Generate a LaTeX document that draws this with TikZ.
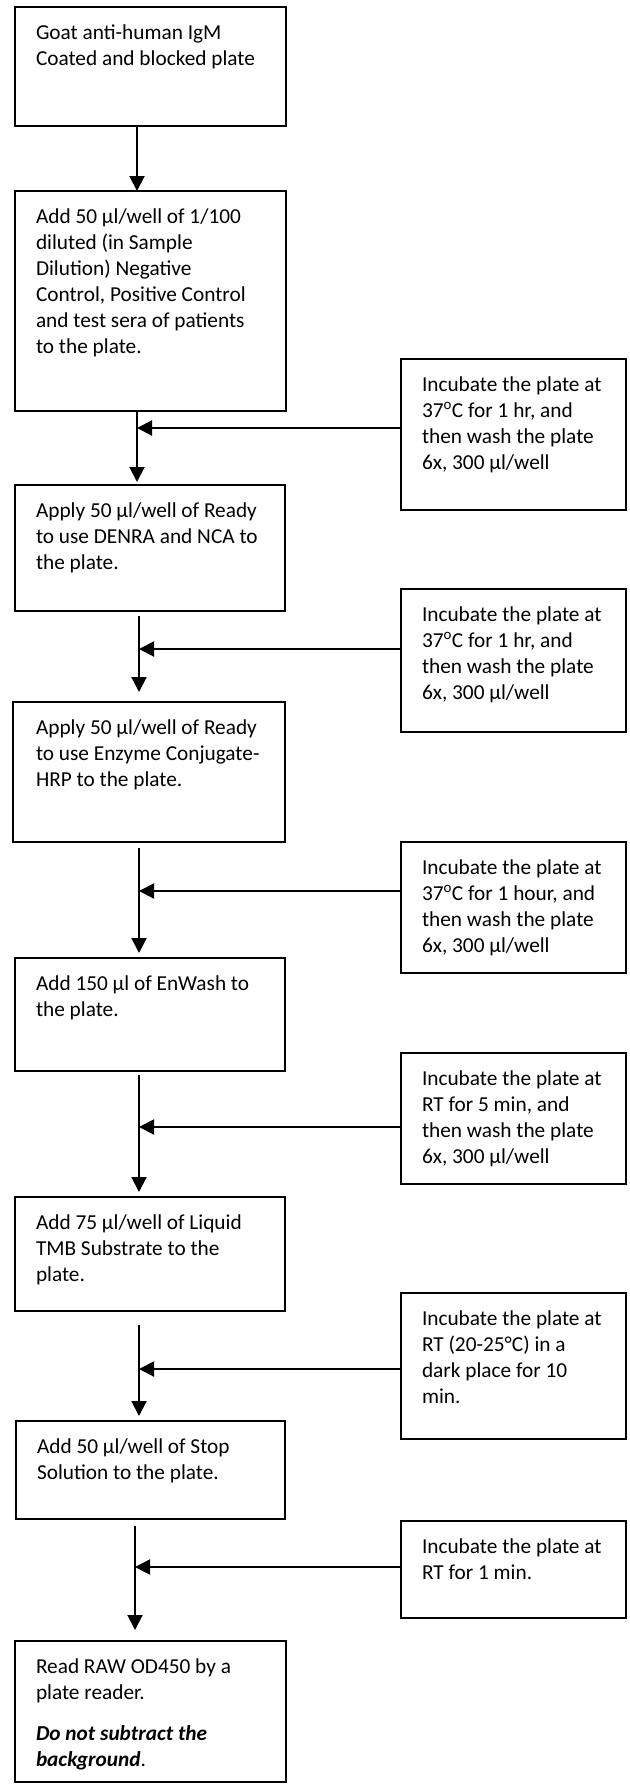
\documentclass[tikz,border=0pt]{standalone}
\usepackage{fontspec}
\setmainfont{Carlito}
\usetikzlibrary{arrows.meta,calc}
\tikzset{
  box/.style={draw, line width=1.3pt, rectangle, outer sep=0pt, inner sep=0pt, anchor=north west},
  txt/.style={anchor=north west, inner sep=0pt, outer sep=0pt, align=left, font=\fontsize{21.3pt}{26pt}\selectfont},
  arr/.style={line width=2pt, -{Triangle[width=15pt,length=15pt]}}
}
\begin{document}
\begin{tikzpicture}[x=1pt,y=-1pt]
\path[fill=white,use as bounding box] (0,0) rectangle (629,1785);

% left boxes
\node[box, minimum width=271pt, minimum height=119pt] (b1) at (15,7) {};
\node[box, minimum width=271pt, minimum height=220pt] (b2) at (15,191) {};
\node[box, minimum width=270pt, minimum height=126pt] (b3) at (15,485) {};
\node[box, minimum width=272pt, minimum height=140pt] (b4) at (13,702) {};
\node[box, minimum width=270pt, minimum height=113pt] (b5) at (15,958) {};
\node[box, minimum width=270pt, minimum height=114pt] (b6) at (15,1197) {};
\node[box, minimum width=269pt, minimum height=98pt] (b7) at (16,1421) {};
\node[box, minimum width=271pt, minimum height=141pt] (b8) at (15,1641) {};

% right boxes
\node[box, minimum width=225pt, minimum height=151pt] (r1) at (401,359) {};
\node[box, minimum width=225pt, minimum height=143pt] (r2) at (401,589) {};
\node[box, minimum width=225pt, minimum height=131pt] (r3) at (401,842) {};
\node[box, minimum width=225pt, minimum height=131pt] (r4) at (401,1053) {};
\node[box, minimum width=225pt, minimum height=146pt] (r5) at (401,1293) {};
\node[box, minimum width=225pt, minimum height=97pt] (r6) at (401,1521) {};

% texts
\node[txt] (t1) at ($(b1.north west)+(21,14)$) {\strut Goat anti-human IgM\\Coated and blocked plate};
\node[txt] (t2) at ($(b2.north west)+(21,14)$) {\strut Add 50 μl/well of 1/100\\diluted (in Sample\\Dilution) Negative\\Control, Positive Control\\and test sera of patients\\to the plate.};
\node[txt] (t3) at ($(b3.north west)+(21,14)$) {\strut Apply 50 μl/well of Ready\\to use DENRA and NCA to\\the plate.};
\node[txt] (t4) at ($(b4.north west)+(23,14)$) {\strut Apply 50 μl/well of Ready\\to use Enzyme Conjugate-\\HRP to the plate.};
\node[txt] (t5) at ($(b5.north west)+(21,14)$) {\strut Add 150 μl of EnWash to\\the plate.};
\node[txt] (t6) at ($(b6.north west)+(21,14)$) {\strut Add 75 μl/well of Liquid\\TMB Substrate to the\\plate.};
\node[txt] (t7) at ($(b7.north west)+(21,14)$) {\strut Add 50 μl/well of Stop\\Solution to the plate.};
\node[txt] (t8) at ($(b8.north west)+(21,14)$) {\strut Read RAW OD450 by a\\plate reader.\\[15pt]{\bfseries\itshape Do not subtract the}\\{\bfseries\itshape background}.};

\node[txt] (u1) at ($(r1.north west)+(21,14)$) {\strut Incubate the plate at\\37\textsuperscript{o}C for 1 hr, and\\then wash the plate\\6x, 300 μl/well};
\node[txt] (u2) at ($(r2.north west)+(21,14)$) {\strut Incubate the plate at\\37\textsuperscript{o}C for 1 hr, and\\then wash the plate\\6x, 300 μl/well};
\node[txt] (u3) at ($(r3.north west)+(21,14)$) {\strut Incubate the plate at\\37\textsuperscript{o}C for 1 hour, and\\then wash the plate\\6x, 300 μl/well};
\node[txt] (u4) at ($(r4.north west)+(21,14)$) {\strut Incubate the plate at\\RT for 5 min, and\\then wash the plate\\6x, 300 μl/well};
\node[txt] (u5) at ($(r5.north west)+(21,14)$) {\strut Incubate the plate at\\RT (20-25°C) in a\\dark place for 10\\min.};
\node[txt] (u6) at ($(r6.north west)+(21,14)$) {\strut Incubate the plate at\\RT for 1 min.};

% vertical arrow end points
\coordinate (a1s) at ($(b1.south west)+(122,0)$);
\coordinate (a1e) at ($(b2.north west)+(122,0)$);
\coordinate (a2s) at ($(b2.south west)+(122,0)$);
\coordinate (a2e) at ($(b3.north west)+(122,-3)$);
\coordinate (a3s) at ($(b3.south west)+(124,5)$);
\coordinate (a3e) at ($(b4.north west)+(126,-10)$);
\coordinate (a4s) at ($(b4.south west)+(126,6)$);
\coordinate (a4e) at ($(b5.north west)+(124,-5)$);
\coordinate (a5s) at ($(b5.south west)+(124,4)$);
\coordinate (a5e) at ($(b6.north west)+(124,-5)$);
\coordinate (a6s) at ($(b6.south west)+(124,14)$);
\coordinate (a6e) at ($(b7.north west)+(123,-5)$);
\coordinate (a7s) at ($(b7.south west)+(119,7)$);
\coordinate (a7e) at ($(b8.north west)+(120,-11)$);

\draw[arr] (a1s) -- (a1e);
\draw[arr] (a2s) -- (a2e);
\draw[arr] (a3s) -- (a3e);
\draw[arr] (a4s) -- (a4e);
\draw[arr] (a5s) -- (a5e);
\draw[arr] (a6s) -- (a6e);
\draw[arr] (a7s) -- (a7e);

% horizontal arrow start points
\coordinate (h1) at ($(r1.west)+(0,-6.5)$);
\coordinate (h2) at ($(r2.west)+(0,-11.5)$);
\coordinate (h3) at ($(r3.west)+(0,-16.5)$);
\coordinate (h4) at ($(r4.west)+(0,8.5)$);
\coordinate (h5) at ($(r5.west)+(0,3)$);
\coordinate (h6) at ($(r6.west)+(0,-2.5)$);

\draw[arr] (h1) -- (h1 -| a2s);
\draw[arr] (h2) -- (h2 -| a3s);
\draw[arr] (h3) -- (h3 -| a4s);
\draw[arr] (h4) -- (h4 -| a5s);
\draw[arr] (h5) -- (h5 -| a6s);
\draw[arr] (h6) -- (h6 -| a7s);
\end{tikzpicture}
\end{document}
